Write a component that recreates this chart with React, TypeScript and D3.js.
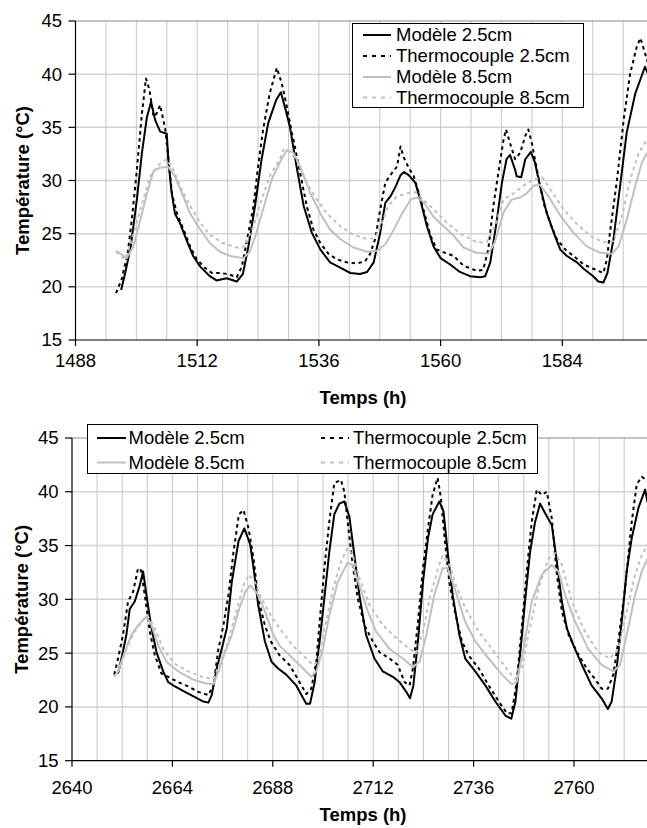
import React from "react";
import * as d3 from "d3";

type P = [number, number];

// ---------- Top chart data (time h, temperature °C) ----------
const topModele25: P[] = [[1497,19.7],[1497.8,21.3],[1498.9,23.8],[1500.1,28.2],[1501.1,32.6],[1502.1,36.0],[1502.9,37.4],[1503.7,35.7],[1504.7,34.6],[1506,34.4],[1506.3,32.0],[1506.9,29.1],[1507.6,26.9],[1508.6,26.0],[1509.9,24.4],[1511.2,22.9],[1512.6,21.9],[1514.5,21.0],[1515.8,20.6],[1517.8,20.8],[1519.8,20.5],[1521,21.2],[1522.1,23.8],[1523.4,27.6],[1524.7,32.0],[1526,35.4],[1527.6,37.6],[1528.5,38.3],[1529.3,36.9],[1530.3,35.0],[1531.6,31.3],[1533,27.6],[1534.6,25.1],[1536.3,23.5],[1538.2,22.3],[1540.2,21.8],[1542.2,21.3],[1544.1,21.2],[1545.5,21.4],[1546.8,22.3],[1548.1,25.1],[1549.1,27.9],[1550.1,28.5],[1551.1,29.4],[1552.1,30.5],[1552.8,30.8],[1553.7,30.5],[1555,29.8],[1556,28.2],[1557.3,25.7],[1558.6,23.8],[1560,22.7],[1561.9,22.1],[1563.8,21.4],[1565.8,21.0],[1567.8,20.9],[1568.8,21.0],[1569.8,22.3],[1571.1,26.3],[1572.1,29.8],[1573,32.0],[1573.7,32.4],[1574.7,31.0],[1575,30.4],[1575.9,30.3],[1576.7,32.0],[1577.8,32.7],[1578.6,31.7],[1579.6,29.5],[1580.9,27.0],[1582.3,25.1],[1583.6,23.5],[1584.9,22.9],[1586.9,22.3],[1588.2,21.7],[1590.1,21.0],[1591.1,20.5],[1592.1,20.4],[1592.9,21.3],[1594.1,24.5],[1595.4,29.5],[1596.7,34.5],[1598.4,38.2],[1599.7,39.9],[1600.3,40.7],[1601.1,39.8],[1601.5,38.8]];
const topThermo25: P[] = [[1496,19.4],[1497.1,20.7],[1498.3,23.2],[1499.1,26.3],[1500.1,31.0],[1501.1,36.3],[1501.9,39.6],[1502.6,38.5],[1503.4,36.0],[1504,36.3],[1504.7,37.1],[1505.7,34.8],[1506.5,31.3],[1507,28.8],[1508,26.9],[1509.3,25.4],[1510.6,23.8],[1511.9,22.6],[1513.5,21.8],[1514.9,21.3],[1516.5,21.3],[1518.1,21.2],[1519.8,20.9],[1520.8,21.9],[1521.7,24.1],[1523.1,27.6],[1524,31.3],[1525,34.8],[1526.3,38.2],[1527.7,40.6],[1528.7,39.1],[1529.7,36.9],[1530.7,34.4],[1531,33.8],[1532.3,30.7],[1533.6,27.6],[1534.9,25.4],[1536.3,24.1],[1537.9,23.1],[1539.5,22.6],[1541.5,22.3],[1543.5,22.2],[1545.1,22.4],[1546.1,23.1],[1547.1,24.5],[1548.1,27.3],[1549.1,29.8],[1550.4,30.7],[1551.4,31.3],[1552.1,33.2],[1552.7,32.2],[1553.7,31.2],[1554.7,30.4],[1555.7,28.8],[1557,26.6],[1558,24.8],[1559.3,23.5],[1560.9,23.2],[1562.6,22.9],[1564.5,22.0],[1567.1,21.5],[1568.4,21.6],[1569.4,23.5],[1570.4,27.6],[1571.7,31.7],[1572.4,33.8],[1572.9,34.8],[1573.7,33.5],[1574.7,32.0],[1575.7,32.6],[1576.7,34.2],[1577.3,34.8],[1578,33.5],[1579,31.0],[1580.3,27.9],[1581.6,26.0],[1582.9,24.5],[1584.6,23.5],[1586.2,22.9],[1588.2,22.1],[1590.1,21.7],[1592.1,21.3],[1592.8,22.6],[1593.4,25.1],[1594.8,30.1],[1596.1,35.7],[1597.4,40.1],[1598.7,42.6],[1599.4,43.4],[1600.3,42.0],[1601.1,40.7],[1601.5,40.5]];
const topModele85: P[] = [[1496,23.4],[1498.1,22.7],[1499.4,23.8],[1500.8,26.3],[1502.1,28.8],[1503.4,30.9],[1504.7,31.2],[1506.3,31.3],[1507.6,30.4],[1509,28.8],[1510.6,26.9],[1512.6,25.4],[1514.5,24.1],[1516.5,23.3],[1518.5,22.9],[1521.1,22.7],[1522.4,23.3],[1523.7,25.1],[1525,27.3],[1526.7,30.1],[1528.4,31.8],[1529.7,32.9],[1531,32.6],[1532.3,31.3],[1534.3,28.8],[1536.3,26.9],[1538.2,25.4],[1540.2,24.5],[1542.8,23.7],[1545.5,23.3],[1547.5,23.4],[1549.1,24.0],[1550.8,25.4],[1552.4,26.9],[1554.1,28.2],[1555.3,28.4],[1556.6,28.0],[1558.6,26.6],[1560.6,25.7],[1562.6,24.8],[1564.5,23.7],[1567.1,23.2],[1569.4,23.1],[1570.7,24.2],[1572.4,27.0],[1574,28.2],[1575.7,28.4],[1577,28.8],[1578.3,29.5],[1579.6,29.6],[1581.3,28.5],[1583.6,26.7],[1586.2,25.1],[1588.8,23.8],[1591.5,23.2],[1593.8,23.1],[1595.1,23.8],[1596.7,26.3],[1598.4,29.5],[1599.7,31.7],[1601.1,32.9],[1601.5,33.2]];
const topThermo85: P[] = [[1496,23.3],[1497.8,22.6],[1499.1,24.4],[1500.8,27.3],[1502.7,30.4],[1504.7,31.6],[1506,32.0],[1507.3,31.0],[1508.6,29.5],[1510.6,27.6],[1512.6,26.0],[1514.5,24.9],[1517.1,24.1],[1519.8,23.7],[1521.4,23.8],[1523.1,25.7],[1524.7,28.2],[1526.3,30.4],[1528.3,32.0],[1529,32.9],[1530.3,32.7],[1532,31.6],[1533.6,29.8],[1535.6,28.2],[1537.6,26.9],[1540.2,25.7],[1542.8,24.9],[1545.5,24.5],[1547.1,24.6],[1548.4,26.0],[1549.7,27.6],[1551.4,28.5],[1553.4,28.8],[1555,28.9],[1556.6,28.2],[1558.6,27.3],[1561.3,26.0],[1563.9,25.0],[1567.1,24.2],[1569.1,24.2],[1570.7,25.7],[1572.4,28.2],[1574.4,28.8],[1576.3,29.5],[1578.3,30.1],[1580,30.3],[1581.6,29.2],[1584.2,27.3],[1586.9,25.9],[1589.5,24.8],[1592.1,24.2],[1594.1,24.3],[1595.8,26.7],[1597.4,30.1],[1599.1,32.6],[1601.1,34.2],[1601.5,34.4]];

// ---------- Bottom chart data ----------
const botModele25: P[] = [[2651,23.1],[2652,24.8],[2653,26.7],[2653.8,29.1],[2655,29.8],[2656.2,31.3],[2657,32.6],[2657.8,30.4],[2659,27.3],[2660.2,25.1],[2661.8,23.3],[2663,22.3],[2664.6,21.9],[2667,21.4],[2669.4,20.9],[2671.4,20.5],[2672.6,20.4],[2673.4,21.1],[2674.6,23.6],[2675.8,25.4],[2677,27.3],[2678.2,31.6],[2679.8,35.4],[2681.2,36.6],[2682.6,35.1],[2683.4,32.9],[2684.5,29.5],[2686.1,26.1],[2687.7,24.2],[2689.2,23.6],[2691.2,23.0],[2693.6,22.0],[2696,20.3],[2696.9,20.3],[2698,22.3],[2699.2,26.1],[2700.4,30.4],[2701.5,34.4],[2702.7,37.9],[2703.9,38.9],[2705.1,39.1],[2706.3,37.7],[2707.5,34.1],[2708.7,30.4],[2710.3,26.7],[2712.3,24.5],[2714.3,23.3],[2716.7,22.8],[2718.3,22.3],[2719.9,21.4],[2720.8,20.8],[2721.6,22.0],[2722.7,26.1],[2723.9,31.6],[2725.1,35.7],[2726.2,37.9],[2727.8,39.1],[2728.8,38.2],[2729.8,34.4],[2731,30.4],[2732.6,26.7],[2734,24.5],[2736.4,23.3],[2738.8,22.0],[2741.2,20.5],[2743.6,19.2],[2745,18.9],[2746,20.5],[2747.1,24.8],[2748.3,29.8],[2749.5,34.4],[2750.7,37.2],[2751.9,38.9],[2753.1,38.0],[2754.7,36.9],[2755.9,33.5],[2757.1,29.8],[2758.3,27.3],[2759.9,25.7],[2761.9,23.9],[2764.2,22.0],[2766.6,20.8],[2768.1,19.8],[2769,20.5],[2770.2,23.6],[2771.4,27.9],[2772.6,32.6],[2773.8,35.7],[2775.4,38.5],[2777,40.2],[2777.6,39.0]];
const botThermo25: P[] = [[2650.1,23.0],[2651,24.5],[2652.2,26.7],[2653.4,29.8],[2654.6,30.7],[2655.8,32.9],[2656.5,32.7],[2657.4,30.4],[2658.6,27.0],[2659.8,24.8],[2661.4,23.1],[2663,22.8],[2665.4,22.3],[2667.8,21.9],[2670.2,21.4],[2672.6,21.1],[2673.8,22.0],[2675,25.4],[2676.2,27.6],[2677.4,30.4],[2678.6,34.4],[2679.9,37.9],[2681,38.3],[2682.2,36.6],[2683.4,33.8],[2684.5,30.1],[2686.1,27.6],[2687.5,26.1],[2689.6,24.8],[2692,23.9],[2694.4,22.3],[2696,21.2],[2697.2,21.7],[2698.4,24.2],[2699.2,27.9],[2700.4,33.2],[2701.5,37.2],[2702.7,40.8],[2704.3,41.1],[2705.1,40.0],[2705.9,37.2],[2707.1,33.2],[2708.3,30.1],[2709.9,27.6],[2711.9,26.1],[2713.5,25.1],[2715.9,24.5],[2717.9,23.9],[2719.5,22.3],[2720.7,22.0],[2721.5,23.6],[2722.7,27.9],[2723.9,32.9],[2725.1,36.6],[2726.2,39.7],[2727.4,41.3],[2728.2,39.4],[2729,36.0],[2730.2,31.6],[2731.5,28.9],[2733.2,26.1],[2734.8,24.8],[2737.2,23.6],[2739.6,22.0],[2742,20.5],[2744,19.4],[2745.1,19.4],[2746.3,22.3],[2747.5,27.3],[2748.7,32.6],[2749.9,37.2],[2751.1,40.2],[2752.3,39.7],[2753.5,40.0],[2754.7,37.5],[2755.9,32.3],[2757.1,28.9],[2758.7,26.7],[2760.7,25.1],[2763,23.6],[2765,22.6],[2766.6,21.7],[2768.1,21.7],[2769.4,23.0],[2770.6,26.1],[2772.2,31.0],[2773.8,37.2],[2775,40.7],[2776.2,41.4],[2777.6,41.0]];
const botModele85: P[] = [[2650.1,22.8],[2651,23.3],[2652.6,25.1],[2654.2,26.7],[2655.8,27.6],[2657.8,28.4],[2659,27.6],[2660.6,25.7],[2662.6,24.2],[2665.4,23.3],[2668.6,22.6],[2671.8,22.2],[2673.8,22.1],[2675,23.3],[2676.6,25.1],[2678.2,26.7],[2679.8,28.9],[2681.4,30.7],[2682.6,31.3],[2684.2,30.6],[2686.1,28.9],[2688.1,26.7],[2689.6,25.7],[2692.8,24.5],[2695.2,23.6],[2697.2,22.8],[2698.4,23.3],[2700,25.4],[2701.5,28.5],[2703.5,31.6],[2705.9,33.4],[2707.1,33.2],[2708.7,31.3],[2710.7,28.9],[2712.7,27.0],[2715.9,25.4],[2719.1,24.5],[2721.5,23.7],[2723.1,24.2],[2724.7,26.7],[2726.6,30.4],[2728.6,32.9],[2729.8,32.9],[2731.5,31.0],[2734,27.9],[2736.4,26.1],[2739.6,24.5],[2742.8,23.0],[2745.1,22.1],[2746.3,22.3],[2747.9,25.4],[2749.9,29.8],[2752.3,32.3],[2754.7,33.2],[2756.3,32.6],[2757.9,30.4],[2760.3,27.9],[2763.4,25.4],[2766.6,23.9],[2769.4,23.3],[2771,23.9],[2772.6,26.7],[2774.6,30.4],[2776.2,32.6],[2777.6,33.8]];
const botThermo85: P[] = [[2650.1,22.8],[2651.4,23.6],[2653,25.4],[2655,27.0],[2656.6,27.9],[2658,28.5],[2659.8,27.3],[2661.8,25.4],[2664.6,24.0],[2667.8,23.3],[2671,22.8],[2673.8,22.6],[2675,23.7],[2677,25.7],[2679,28.5],[2681,31.3],[2682.3,32.3],[2683.7,31.6],[2685.3,30.1],[2687.5,28.5],[2689.6,27.3],[2692.8,25.7],[2695.2,24.8],[2697.6,23.9],[2698.8,24.2],[2700.4,27.3],[2702.4,31.0],[2704.3,33.5],[2705.9,34.8],[2707.1,34.1],[2708.7,32.0],[2711.1,29.5],[2714.3,27.6],[2717.5,26.4],[2720.7,25.4],[2722.3,25.0],[2723.9,27.0],[2725.5,30.1],[2727.5,32.9],[2728.6,34.1],[2730.2,33.2],[2731.7,31.4],[2734,29.2],[2737.2,27.0],[2740.4,25.4],[2743.6,23.7],[2745.9,22.6],[2747.5,23.6],[2749.1,26.7],[2751.5,31.0],[2753.9,33.8],[2755.5,34.3],[2757.1,33.2],[2759.5,29.8],[2762.6,27.0],[2765.8,25.1],[2768.6,24.5],[2770.6,25.4],[2772.2,28.2],[2774.6,32.3],[2776.2,34.1],[2777.6,35.1]];

// ---------- Axes / labels ----------
const yTicks = [15, 20, 25, 30, 35, 40, 45];
const topXTicks = [1488, 1512, 1536, 1560, 1584];
const botXTicks = [2640, 2664, 2688, 2712, 2736, 2760];
const seriesNames = ["Modèle 2.5cm", "Thermocouple 2.5cm", "Modèle 8.5cm", "Thermocouple 8.5cm"];
const xTitle = "Temps (h)";
const yTitle = "Température (°C)";

const FONT = "'Liberation Sans', Arial, Helvetica, sans-serif";
const FS = 18.5;
const BLACK = "#000000";
const GRAY = "#c0c0c0";
const GRID = "#c8c8c8";

const styles = [
  { stroke: BLACK, dash: undefined as string | undefined, width: 2 },
  { stroke: BLACK, dash: "3.5,3.5", width: 2 },
  { stroke: GRAY, dash: undefined as string | undefined, width: 2 },
  { stroke: GRAY, dash: "3.5,3.5", width: 2 },
];

interface ChartProps {
  id: string;
  xDomain: [number, number];
  xRange: [number, number];
  yRange: [number, number];
  xTicks: number[];
  series: P[][];
  yTickX: number;
  xLabelY: number;
  xTitleY: number;
  yTitleX: number;
  legend: React.ReactNode;
}

function Chart(p: ChartProps) {
  const x = d3.scaleLinear().domain(p.xDomain).range(p.xRange);
  const y = d3.scaleLinear().domain([15, 45]).range(p.yRange);
  const line = d3
    .line<P>()
    .x((d) => x(d[0]))
    .y((d) => y(d[1]));
  const left = p.xRange[0];
  const right = 647;
  const top = y(45);
  const bottom = y(15);
  const minor = d3.range(p.xDomain[0], p.xDomain[1] + 0.1, 6);
  return (
    <g>
      <defs>
        <clipPath id={p.id}>
          <rect x={left} y={top - 10} width={right - left} height={bottom - top + 10} />
        </clipPath>
      </defs>
      {yTicks.slice(1, -1).map((t) => (
        <line key={"h" + t} x1={left} x2={right} y1={y(t)} y2={y(t)} stroke="#d4d4d4" strokeWidth={1.5} />
      ))}
      {minor.slice(1).map((t) => (
        <line key={"v" + t} x1={x(t)} x2={x(t)} y1={top} y2={bottom} stroke={GRID} strokeWidth={1} />
      ))}
      <line x1={left} x2={right} y1={top} y2={top} stroke="#888888" strokeWidth={1} />
      <g clipPath={`url(#${p.id})`}>
        {p.series.map((s, i) => (
          <path
            key={i}
            d={line(s) || ""}
            fill="none"
            stroke={styles[i].stroke}
            strokeWidth={styles[i].width}
            strokeDasharray={styles[i].dash}
            strokeLinejoin="round"
          />
        ))}
      </g>
      <line x1={left} x2={left} y1={top} y2={bottom} stroke={BLACK} strokeWidth={1.2} />
      <line x1={left} x2={right} y1={bottom} y2={bottom} stroke={BLACK} strokeWidth={1.2} />
      {yTicks.map((t) => (
        <g key={"yt" + t}>
          <line x1={left - 7} x2={left} y1={y(t)} y2={y(t)} stroke={BLACK} strokeWidth={1.2} />
          <text x={p.yTickX} y={y(t)} dy="0.35em" textAnchor="end" fontSize={FS} fontFamily={FONT} fill="#000">
            {t}
          </text>
        </g>
      ))}
      {p.xTicks.map((t) => (
        <g key={"xt" + t}>
          <line x1={x(t)} x2={x(t)} y1={bottom} y2={bottom + 6} stroke={BLACK} strokeWidth={1.2} />
          <text x={x(t)} y={p.xLabelY} dy="0.35em" textAnchor="middle" fontSize={FS} fontFamily={FONT} fill="#000">
            {t}
          </text>
        </g>
      ))}
      <text x={363} y={p.xTitleY} dy="0.35em" textAnchor="middle" fontSize={FS} fontWeight="bold" fontFamily={FONT}>
        {xTitle}
      </text>
      <text
        transform={`translate(${p.yTitleX},${(top + bottom) / 2}) rotate(-90)`}
        dy="0.35em"
        textAnchor="middle"
        fontSize={FS}
        fontWeight="bold"
        fontFamily={FONT}
      >
        {yTitle}
      </text>
      {p.legend}
    </g>
  );
}

function LegendItem({ i, x1, x2, tx, yy }: { i: number; x1: number; x2: number; tx: number; yy: number }) {
  return (
    <g>
      <line x1={x1} x2={x2} y1={yy} y2={yy} stroke={styles[i].stroke} strokeWidth={2} strokeDasharray={styles[i].dash ? "4,5" : undefined} />
      <text x={tx} y={yy} dy="0.35em" fontSize={FS} fontFamily={FONT} fill="#000">
        {seriesNames[i]}
      </text>
    </g>
  );
}

export default function App() {
  const topRows = [35, 56, 77, 97.5];
  const topLegend = (
    <g>
      <rect x={352.5} y={23.5} width={231} height={84} fill="#fff" stroke="#000" strokeWidth={1} />
      {topRows.map((yy, i) => (
        <LegendItem key={i} i={i} x1={363} x2={391} tx={396} yy={yy} />
      ))}
    </g>
  );
  const botLegend = (
    <g>
      <rect x={87.5} y={424.5} width={450} height={49} fill="#fff" stroke="#000" strokeWidth={1} />
      <LegendItem i={0} x1={97} x2={126} tx={128.5} yy={438} />
      <LegendItem i={2} x1={97} x2={126} tx={128.5} yy={462.5} />
      <LegendItem i={1} x1={321} x2={349} tx={353} yy={438} />
      <LegendItem i={3} x1={321} x2={349} tx={353} yy={462.5} />
    </g>
  );
  return (
    <svg width={647} height={828} style={{ position: "absolute", left: 0, top: 0, background: "#fff" }}>
      <rect width={647} height={828} fill="#fff" />
      <Chart
        id="clipTop"
        xDomain={[1488, 1608]}
        xRange={[75.5, 684]}
        yRange={[340, 21]}
        xTicks={topXTicks}
        series={[topModele25, topThermo25, topModele85, topThermo85]}
        yTickX={62}
        xLabelY={360.5}
        xTitleY={398}
        yTitleX={23}
        legend={topLegend}
      />
      <Chart
        id="clipBot"
        xDomain={[2640, 2784]}
        xRange={[72, 674.4]}
        yRange={[760.7, 438]}
        xTicks={botXTicks}
        series={[botModele25, botThermo25, botModele85, botThermo85]}
        yTickX={58.5}
        xLabelY={788}
        xTitleY={815}
        yTitleX={22}
        legend={botLegend}
      />
    </svg>
  );
}
